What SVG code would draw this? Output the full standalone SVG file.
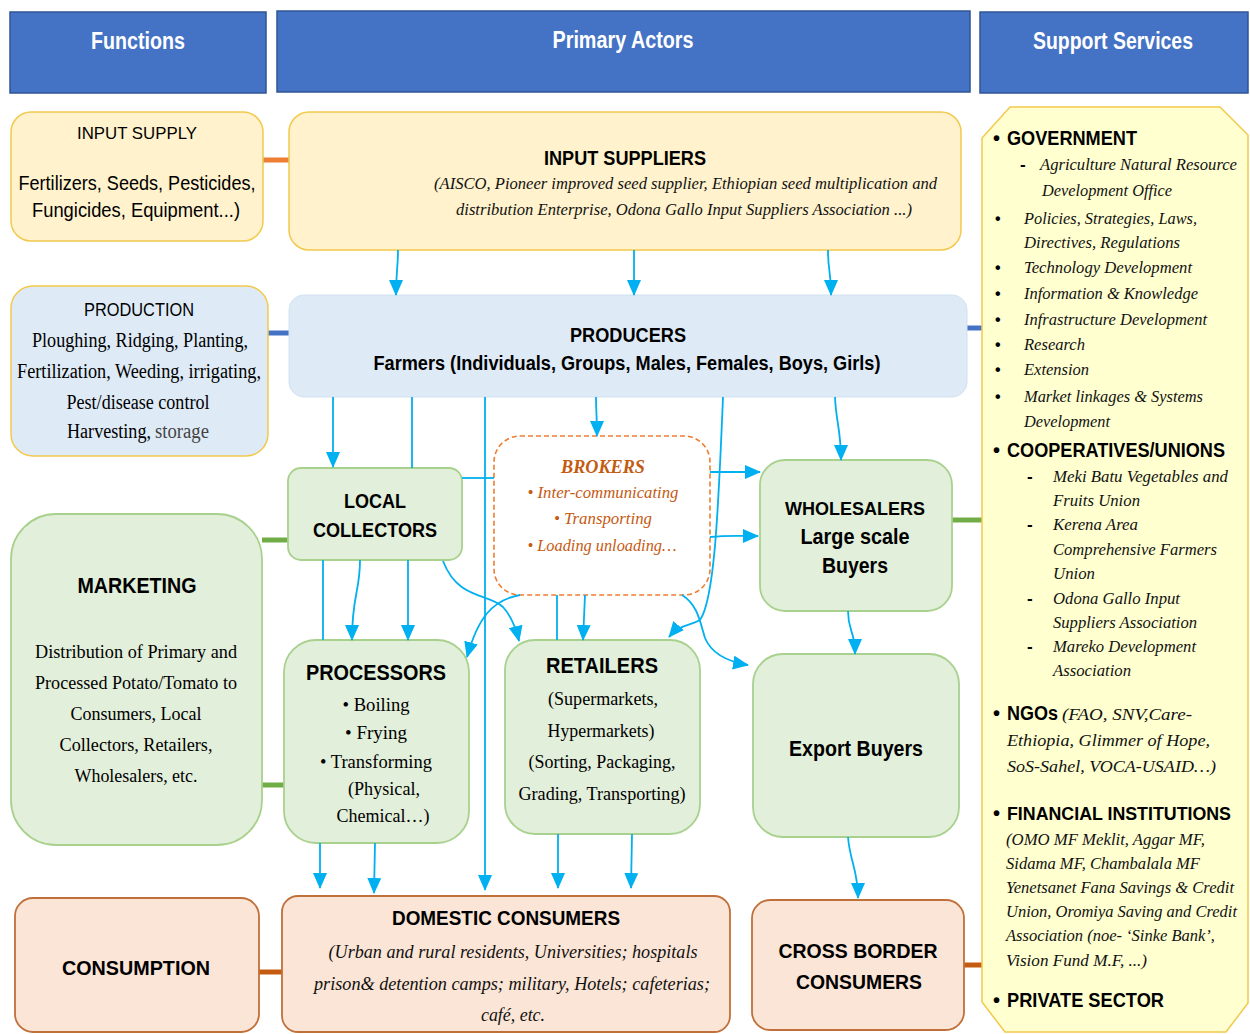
<svg xmlns="http://www.w3.org/2000/svg" width="1250" height="1034" viewBox="0 0 1250 1034">
<style>
.hdr{font-family:"Liberation Sans",Arial,sans-serif;font-weight:bold;font-size:23px;fill:#fff;text-anchor:middle}
.sb{font-family:"Liberation Sans",Arial,sans-serif;font-weight:bold;fill:#000}
.sr{font-family:"Liberation Sans",Arial,sans-serif;fill:#000}
.se{font-family:"Liberation Serif","Times New Roman",serif;fill:#000}
.si{font-family:"Liberation Serif","Times New Roman",serif;font-style:italic;fill:#111}
.c{text-anchor:middle}
.yel{fill:#FFF2CC;stroke:#F2C94C;stroke-width:1.5}
.blu{fill:#DEEBF7;stroke:#F2C94C;stroke-width:1.5}
.grn{fill:#E2EFDA;stroke:#A9D18E;stroke-width:1.8}
.pch{fill:#FBE5D6;stroke:#C0703A;stroke-width:1.8}
.hbox{fill:#4472C4;stroke:#2F5597;stroke-width:1.5}
.conn path{fill:none;stroke:#00B0F0;stroke-width:1.8}
.conn .a{marker-end:url(#ah)}
.link{stroke-width:5;fill:none}
</style>
<defs>
<marker id="ah" markerUnits="userSpaceOnUse" markerWidth="16" markerHeight="14" refX="15" refY="7" orient="auto">
<path d="M0,0 L16,7 L0,14 z" fill="#00B0F0"/>
</marker>
</defs>
<rect width="1250" height="1034" fill="#fff"/>

<!-- headers -->
<g id="hdr-functions"><rect class="hbox" x="10" y="12" width="256" height="81"/><text class="hdr" x="138" y="49" textLength="94" lengthAdjust="spacingAndGlyphs">Functions</text></g>
<g id="hdr-primary"><rect class="hbox" x="277" y="11" width="693" height="81"/><text class="hdr" x="623" y="48" textLength="141" lengthAdjust="spacingAndGlyphs">Primary Actors</text></g>
<g id="hdr-support"><rect class="hbox" x="980" y="12" width="268" height="81"/><text class="hdr" x="1113" y="49" textLength="160" lengthAdjust="spacingAndGlyphs">Support Services</text></g>

<!-- function links -->
<g id="links">
<path class="link" d="M263,160 L290,160" stroke="#ED7D31"/>
<path class="link" d="M268,333 L290,333" stroke="#4472C4"/>
<path class="link" d="M262,540 L289,540" stroke="#70AD47"/>
<path class="link" d="M262,785 L285,785" stroke="#70AD47"/>
<path class="link" d="M259,972 L283,972" stroke="#C55A11"/>
<path class="link" d="M967,328 L984,328" stroke="#4472C4"/>
<path class="link" d="M952,520 L984,520" stroke="#70AD47"/>
<path class="link" d="M964,965 L984,965" stroke="#C55A11"/>
</g>

<!-- left column -->
<g id="input-supply">
<rect class="yel" x="11" y="112" width="252" height="129" rx="20"/>
<text class="sr c" x="137" y="139" font-size="17" textLength="120" lengthAdjust="spacingAndGlyphs">INPUT SUPPLY</text>
<text class="sr c" x="137" y="190" font-size="20" textLength="237" lengthAdjust="spacingAndGlyphs">Fertilizers, Seeds, Pesticides,</text>
<text class="sr c" x="136" y="217" font-size="20" textLength="208" lengthAdjust="spacingAndGlyphs">Fungicides, Equipment...)</text>
</g>
<g id="production">
<rect class="blu" x="11" y="286" width="257" height="170" rx="22"/>
<text class="sr c" x="139" y="316" font-size="18" textLength="110" lengthAdjust="spacingAndGlyphs">PRODUCTION</text>
<text class="se c" x="140" y="347" font-size="20" textLength="216" lengthAdjust="spacingAndGlyphs">Ploughing, Ridging, Planting,</text>
<text class="se c" x="139" y="378" font-size="20" textLength="244" lengthAdjust="spacingAndGlyphs">Fertilization, Weeding, irrigating,</text>
<text class="se c" x="138" y="409" font-size="20" textLength="143" lengthAdjust="spacingAndGlyphs">Pest/disease control</text>
<text class="se" x="67" y="438" font-size="20" textLength="84" lengthAdjust="spacingAndGlyphs">Harvesting,</text>
<text class="se" x="155" y="438" font-size="20" fill="#444" style="fill:#444" textLength="54" lengthAdjust="spacingAndGlyphs">storage</text>
</g>
<g id="marketing">
<rect class="grn" x="11" y="514" width="251" height="331" rx="45"/>
<text class="sb c" x="137" y="593" font-size="22" textLength="119" lengthAdjust="spacingAndGlyphs">MARKETING</text>
<text class="se c" x="136" y="658" font-size="19" textLength="202" lengthAdjust="spacingAndGlyphs">Distribution of Primary and</text>
<text class="se c" x="136" y="689" font-size="19" textLength="202" lengthAdjust="spacingAndGlyphs">Processed Potato/Tomato to</text>
<text class="se c" x="136" y="720" font-size="19" textLength="131" lengthAdjust="spacingAndGlyphs">Consumers, Local</text>
<text class="se c" x="136" y="751" font-size="19" textLength="153" lengthAdjust="spacingAndGlyphs">Collectors, Retailers,</text>
<text class="se c" x="136" y="782" font-size="19" textLength="123" lengthAdjust="spacingAndGlyphs">Wholesalers, etc.</text>
</g>
<g id="consumption">
<rect class="pch" x="15" y="898" width="244" height="134" rx="18"/>
<text class="sb c" x="136" y="975" font-size="21" textLength="148" lengthAdjust="spacingAndGlyphs">CONSUMPTION</text>
</g>

<!-- primary actors -->
<g id="input-suppliers">
<rect class="yel" x="289" y="112" width="672" height="138" rx="20"/>
<text class="sb c" x="625" y="165" font-size="20" textLength="162" lengthAdjust="spacingAndGlyphs">INPUT SUPPLIERS</text>
<text class="si" x="434" y="189" font-size="17" textLength="503" lengthAdjust="spacingAndGlyphs">(AISCO, Pioneer improved seed supplier, Ethiopian seed multiplication and</text>
<text class="si" x="456" y="215" font-size="17" textLength="456" lengthAdjust="spacingAndGlyphs">distribution Enterprise, Odona Gallo Input Suppliers Association ...)</text>
</g>
<g id="producers">
<rect x="289" y="295" width="678" height="102" rx="15" fill="#DEEAF6" stroke="#D2E1F0" stroke-width="1"/>
<text class="sb c" x="628" y="342" font-size="20" textLength="116" lengthAdjust="spacingAndGlyphs">PRODUCERS</text>
<text class="sb c" x="627" y="370" font-size="20" textLength="507" lengthAdjust="spacingAndGlyphs">Farmers (Individuals, Groups, Males, Females, Boys, Girls)</text>
</g>
<g id="local-collectors">
<rect class="grn" x="288" y="468" width="174" height="92" rx="13"/>
<text class="sb c" x="375" y="508" font-size="20" textLength="62" lengthAdjust="spacingAndGlyphs">LOCAL</text>
<text class="sb c" x="375" y="537" font-size="20" textLength="124" lengthAdjust="spacingAndGlyphs">COLLECTORS</text>
</g>
<g id="brokers">
<rect x="494" y="436" width="216" height="159" rx="26" fill="#fff" stroke="#ED7D31" stroke-width="1.6" stroke-dasharray="5,3"/>
<text class="si c" x="603" y="473" font-size="19" font-weight="bold" style="fill:#C55A11" textLength="84" lengthAdjust="spacingAndGlyphs">BROKERS</text>
<text class="si c" x="603" y="498" font-size="17" style="fill:#C55A11" textLength="151" lengthAdjust="spacingAndGlyphs">• Inter-communicating</text>
<text class="si c" x="603" y="524" font-size="17" style="fill:#C55A11" textLength="98" lengthAdjust="spacingAndGlyphs">• Transporting</text>
<text class="si c" x="602" y="551" font-size="17" style="fill:#C55A11" textLength="149" lengthAdjust="spacingAndGlyphs">• Loading unloading…</text>
</g>
<g id="wholesalers">
<rect class="grn" x="760" y="460" width="192" height="151" rx="25"/>
<text class="sb c" x="855" y="515" font-size="19" textLength="140" lengthAdjust="spacingAndGlyphs">WHOLESALERS</text>
<text class="sb c" x="855" y="544" font-size="22" textLength="109" lengthAdjust="spacingAndGlyphs">Large scale</text>
<text class="sb c" x="855" y="573" font-size="22" textLength="66" lengthAdjust="spacingAndGlyphs">Buyers</text>
</g>
<g id="processors">
<rect class="grn" x="284" y="640" width="185" height="203" rx="32"/>
<text class="sb c" x="376" y="680" font-size="22" textLength="140" lengthAdjust="spacingAndGlyphs">PROCESSORS</text>
<text class="se c" x="376" y="711" font-size="19" textLength="67" lengthAdjust="spacingAndGlyphs">• Boiling</text>
<text class="se c" x="376" y="739" font-size="19" textLength="62" lengthAdjust="spacingAndGlyphs">• Frying</text>
<text class="se c" x="376" y="768" font-size="19" textLength="112" lengthAdjust="spacingAndGlyphs">• Transforming</text>
<text class="se c" x="384" y="795" font-size="19" textLength="72" lengthAdjust="spacingAndGlyphs">(Physical,</text>
<text class="se c" x="383" y="822" font-size="19" textLength="93" lengthAdjust="spacingAndGlyphs">Chemical…)</text>
</g>
<g id="retailers">
<rect class="grn" x="505" y="640" width="195" height="194" rx="30"/>
<text class="sb c" x="602" y="673" font-size="22" textLength="112" lengthAdjust="spacingAndGlyphs">RETAILERS</text>
<text class="se c" x="603" y="705" font-size="19" textLength="110" lengthAdjust="spacingAndGlyphs">(Supermarkets,</text>
<text class="se c" x="601" y="737" font-size="19" textLength="107" lengthAdjust="spacingAndGlyphs">Hypermarkets)</text>
<text class="se c" x="602" y="768" font-size="19" textLength="147" lengthAdjust="spacingAndGlyphs">(Sorting, Packaging,</text>
<text class="se c" x="602" y="800" font-size="19" textLength="167" lengthAdjust="spacingAndGlyphs">Grading, Transporting)</text>
</g>
<g id="export-buyers">
<rect class="grn" x="753" y="654" width="206" height="183" rx="30"/>
<text class="sb c" x="856" y="756" font-size="22" textLength="134" lengthAdjust="spacingAndGlyphs">Export Buyers</text>
</g>
<g id="domestic-consumers">
<rect class="pch" x="282" y="896" width="448" height="136" rx="16"/>
<text class="sb c" x="506" y="925" font-size="20" textLength="228" lengthAdjust="spacingAndGlyphs">DOMESTIC CONSUMERS</text>
<text class="si c" x="513" y="958" font-size="18" textLength="369" lengthAdjust="spacingAndGlyphs">(Urban and rural residents, Universities; hospitals</text>
<text class="si c" x="512" y="990" font-size="18" textLength="396" lengthAdjust="spacingAndGlyphs">prison&amp; detention camps; military, Hotels; cafeterias;</text>
<text class="si c" x="513" y="1021" font-size="18" textLength="64" lengthAdjust="spacingAndGlyphs">café, etc.</text>
</g>
<g id="cross-border-consumers">
<rect class="pch" x="752" y="900" width="212" height="130" rx="18"/>
<text class="sb c" x="858" y="958" font-size="21" textLength="159" lengthAdjust="spacingAndGlyphs">CROSS BORDER</text>
<text class="sb c" x="859" y="989" font-size="21" textLength="126" lengthAdjust="spacingAndGlyphs">CONSUMERS</text>
</g>

<!-- support services -->
<g id="support-services">
<path d="M1010,107 L1220,107 L1248,135 L1248,1003 L1226,1032 L1005,1032 L982,1002 L982,138 Z" fill="#FFFFD0" stroke="#F2C94C" stroke-width="1.5"/>
<text class="sb" x="993" y="145" font-size="20">•</text>
<text class="sb" x="1007" y="145" font-size="20" textLength="130" lengthAdjust="spacingAndGlyphs">GOVERNMENT</text>
<text class="sb" x="1020" y="170" font-size="17">-</text>
<text class="si" x="1040" y="170" font-size="17" textLength="197" lengthAdjust="spacingAndGlyphs">Agriculture Natural Resource</text>
<text class="si" x="1042" y="196" font-size="17" textLength="130" lengthAdjust="spacingAndGlyphs">Development Office</text>
<g class="sb" font-size="16">
<text x="995" y="224">•</text><text x="995" y="273">•</text><text x="995" y="299">•</text><text x="995" y="325">•</text><text x="995" y="350">•</text><text x="995" y="375">•</text><text x="995" y="402">•</text>
</g>
<text class="si" x="1024" y="224" font-size="17" textLength="173" lengthAdjust="spacingAndGlyphs">Policies, Strategies, Laws,</text>
<text class="si" x="1024" y="248" font-size="17" textLength="156" lengthAdjust="spacingAndGlyphs">Directives, Regulations</text>
<text class="si" x="1024" y="273" font-size="17" textLength="168" lengthAdjust="spacingAndGlyphs">Technology Development</text>
<text class="si" x="1024" y="299" font-size="17" textLength="174" lengthAdjust="spacingAndGlyphs">Information &amp; Knowledge</text>
<text class="si" x="1024" y="325" font-size="17" textLength="183" lengthAdjust="spacingAndGlyphs">Infrastructure Development</text>
<text class="si" x="1024" y="350" font-size="17" textLength="61" lengthAdjust="spacingAndGlyphs">Research</text>
<text class="si" x="1024" y="375" font-size="17" textLength="65" lengthAdjust="spacingAndGlyphs">Extension</text>
<text class="si" x="1024" y="402" font-size="17" textLength="179" lengthAdjust="spacingAndGlyphs">Market linkages &amp; Systems</text>
<text class="si" x="1024" y="427" font-size="17" textLength="86" lengthAdjust="spacingAndGlyphs">Development</text>

<text class="sb" x="993" y="457" font-size="20">•</text>
<text class="sb" x="1007" y="457" font-size="20" textLength="218" lengthAdjust="spacingAndGlyphs">COOPERATIVES/UNIONS</text>
<g class="sb" font-size="17"><text x="1027" y="482">-</text><text x="1027" y="530">-</text><text x="1027" y="604">-</text><text x="1027" y="652">-</text></g>
<text class="si" x="1053" y="482" font-size="17" textLength="175" lengthAdjust="spacingAndGlyphs">Meki Batu Vegetables and</text>
<text class="si" x="1053" y="506" font-size="17" textLength="87" lengthAdjust="spacingAndGlyphs">Fruits Union</text>
<text class="si" x="1053" y="530" font-size="17" textLength="85" lengthAdjust="spacingAndGlyphs">Kerena Area</text>
<text class="si" x="1053" y="555" font-size="17" textLength="164" lengthAdjust="spacingAndGlyphs">Comprehensive Farmers</text>
<text class="si" x="1053" y="579" font-size="17" textLength="42" lengthAdjust="spacingAndGlyphs">Union</text>
<text class="si" x="1053" y="604" font-size="17" textLength="127" lengthAdjust="spacingAndGlyphs">Odona Gallo Input</text>
<text class="si" x="1053" y="628" font-size="17" textLength="144" lengthAdjust="spacingAndGlyphs">Suppliers Association</text>
<text class="si" x="1053" y="652" font-size="17" textLength="143" lengthAdjust="spacingAndGlyphs">Mareko Development</text>
<text class="si" x="1053" y="676" font-size="17" textLength="78" lengthAdjust="spacingAndGlyphs">Association</text>

<text class="sb" x="993" y="720" font-size="20">•</text>
<text class="sb" x="1007" y="720" font-size="20" textLength="51" lengthAdjust="spacingAndGlyphs">NGOs</text>
<text class="si" x="1062" y="720" font-size="17" textLength="130" lengthAdjust="spacingAndGlyphs">(FAO, SNV,Care-</text>
<text class="si" x="1007" y="746" font-size="17" textLength="203" lengthAdjust="spacingAndGlyphs">Ethiopia, Glimmer of Hope,</text>
<text class="si" x="1007" y="772" font-size="17" textLength="209" lengthAdjust="spacingAndGlyphs">SoS-Sahel, VOCA-USAID…)</text>

<text class="sb" x="993" y="820" font-size="20">•</text>
<text class="sb" x="1007" y="820" font-size="19" textLength="224" lengthAdjust="spacingAndGlyphs">FINANCIAL INSTITUTIONS</text>
<text class="si" x="1006" y="845" font-size="16" textLength="199" lengthAdjust="spacingAndGlyphs">(OMO MF Meklit, Aggar MF,</text>
<text class="si" x="1006" y="869" font-size="16" textLength="194" lengthAdjust="spacingAndGlyphs">Sidama MF, Chambalala MF</text>
<text class="si" x="1006" y="893" font-size="16" textLength="228" lengthAdjust="spacingAndGlyphs">Yenetsanet Fana Savings &amp; Credit</text>
<text class="si" x="1006" y="917" font-size="16" textLength="231" lengthAdjust="spacingAndGlyphs">Union, Oromiya Saving and Credit</text>
<text class="si" x="1006" y="941" font-size="16" textLength="209" lengthAdjust="spacingAndGlyphs">Association (noe- ‘Sinke Bank’,</text>
<text class="si" x="1006" y="966" font-size="16" textLength="141" lengthAdjust="spacingAndGlyphs">Vision Fund M.F, ...)</text>

<text class="sb" x="993" y="1007" font-size="20">•</text>
<text class="sb" x="1007" y="1007" font-size="20" textLength="157" lengthAdjust="spacingAndGlyphs">PRIVATE SECTOR</text>
</g>

<!-- connectors -->
<g id="connectors" class="conn">
<path class="a" d="M398,250 C398,268 396,272 396,295"/>
<path class="a" d="M634,250 L634,295"/>
<path class="a" d="M828,250 C828,272 831,270 831,295"/>
<path class="a" d="M333,397 L333,467"/>
<path d="M412,397 L412,468"/>
<path class="a" d="M485,397 L485,890"/>
<path class="a" d="M596,397 C596,412 597,416 597,436"/>
<path class="a" d="M723,397 C718,520 714,600 700,620 C690,626 680,624 669,637"/>
<path class="a" d="M682,595 C698,605 700,622 705,638 C712,655 730,662 748,665"/>
<path class="a" d="M835,397 C836,422 841,430 841,460"/>
<path d="M462,478 L494,478"/>
<path class="a" d="M710,472 L760,472"/>
<path class="a" d="M710,537 C728,535 740,536 758,536"/>
<path d="M323,560 L323,640"/>
<path class="a" d="M360,560 C360,592 352,595 352,640"/>
<path class="a" d="M408,560 L408,640"/>
<path class="a" d="M443,561 C458,600 488,593 503,607 C512,617 516,628 519,641"/>
<path class="a" d="M520,595 C492,600 478,618 467,657"/>
<path d="M557,595 L557,640"/>
<path class="a" d="M585,595 L583,640"/>
<path class="a" d="M320,843 L320,888"/>
<path class="a" d="M375,843 L374,893"/>
<path class="a" d="M558,834 L558,888"/>
<path class="a" d="M632,834 L631,888"/>
<path class="a" d="M848,611 C848,632 855,630 855,654"/>
<path class="a" d="M848,837 C850,862 858,870 858,898"/>
</g>
</svg>
